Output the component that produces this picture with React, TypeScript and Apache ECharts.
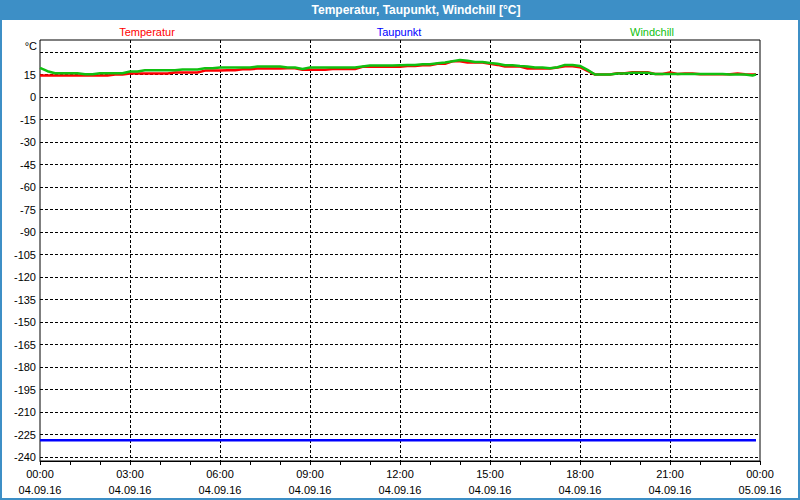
import React, { useEffect, useRef } from "react";
import * as echarts from "echarts";

const times = [
  "00:00","00:15","00:30","00:45","01:00","01:15","01:30","01:45",
  "02:00","02:15","02:30","02:45","03:00","03:15","03:30","03:45",
  "04:00","04:15","04:30","04:45","05:00","05:15","05:30","05:45",
  "06:00","06:15","06:30","06:45","07:00","07:15","07:30","07:45",
  "08:00","08:15","08:30","08:45","09:00","09:15","09:30","09:45",
  "10:00","10:15","10:30","10:45","11:00","11:15","11:30","11:45",
  "12:00","12:15","12:30","12:45","13:00","13:15","13:30","13:45",
  "14:00","14:15","14:30","14:45","15:00","15:15","15:30","15:45",
  "16:00","16:15","16:30","16:45","17:00","17:15","17:30","17:45",
  "18:00","18:15","18:30","18:45","19:00","19:15","19:30","19:45",
  "20:00","20:15","20:30","20:45","21:00","21:15","21:30","21:45",
  "22:00","22:15","22:30","22:45","23:00","23:15","23:30","23:45",
  "23:52",
];

const temperatur = [
  14.3,14.3,14.3,14.3,14.3,14.3,14.3,14.3,
  14.3,14.3,15.0,15.0,15.6,15.6,15.6,15.6,
  15.6,15.6,16.3,16.3,16.3,16.3,17.6,17.6,
  17.6,17.8,17.8,18.5,18.5,19.0,19.0,19.0,
  19.0,19.2,19.2,18.1,18.1,18.1,18.1,18.7,
  18.7,18.7,18.7,20.1,20.1,20.1,20.1,20.1,
  20.1,20.7,20.7,21.2,21.2,22.1,22.1,23.8,
  23.8,23.0,23.0,23.0,22.1,21.4,20.3,20.3,
  20.3,19.0,19.0,19.0,19.0,19.6,20.5,20.5,
  19.9,17.4,15.0,15.0,15.0,15.8,15.8,16.5,
  16.5,16.5,15.4,15.4,16.3,15.4,15.6,15.6,
  15.2,15.2,15.2,15.2,15.2,15.6,15.2,15.0,
  15.0,
];

const windchill = [
  19.4,17.2,15.8,15.8,15.8,15.8,15.2,15.2,
  15.8,15.8,15.8,15.8,17.0,17.0,17.8,17.8,
  17.8,17.8,17.8,18.3,18.3,18.3,19.2,19.2,
  19.7,19.6,19.6,19.6,19.6,20.3,20.3,20.3,
  20.3,19.6,19.6,18.7,19.6,19.6,19.6,19.6,
  19.6,19.6,19.6,20.3,21.0,21.0,21.0,21.0,
  21.2,21.4,21.4,21.8,21.8,22.5,23.0,23.8,
  24.7,24.1,23.4,23.4,22.7,22.1,21.2,21.2,
  20.7,20.3,19.6,19.6,19.2,19.8,21.4,21.4,
  20.7,18.1,15.0,15.0,15.0,15.6,15.6,16.1,
  16.1,16.1,15.4,15.4,15.4,15.4,15.4,15.4,
  15.4,15.4,15.4,15.4,15.0,15.0,15.0,14.3,
  15.0,
];

const taupunktTimes = ["00:00", "23:52"];
const taupunkt = [-228.9, -228.9];

const xTickTimes = ["00:00","03:00","06:00","09:00","12:00","15:00","18:00","21:00","00:00"];
const xTickDates = ["04.09.16","04.09.16","04.09.16","04.09.16","04.09.16","04.09.16","04.09.16","04.09.16","05.09.16"];

const seriesNames = ["Temperatur", "Taupunkt", "Windchill"];
const seriesColors = ["#ff0000", "#0000ff", "#10c010"];

const toHours = (t: string) => {
  const [h, m] = t.split(":").map(Number);
  return h + m / 60;
};

const FONT = "Liberation Sans";

export default function App() {
  const ref = useRef<HTMLDivElement>(null);
  useEffect(() => {
    if (!ref.current) return;
    const chart = echarts.init(ref.current, null, { renderer: "svg" });
    const dash = { color: "#000", width: 1, type: [3, 2] as any };
    chart.setOption({
      animation: false,
      backgroundColor: "#ffffff",
      grid: [
        { left: 40, right: 40, top: 52, bottom: 43, show: false },
        { left: 40, right: 40, top: 40, bottom: 39, show: true, borderColor: "#000", borderWidth: 1, backgroundColor: "transparent" },
      ],
      xAxis: [
        { type: "value", gridIndex: 0, min: 0, max: 24, show: false },
        {
          type: "value", gridIndex: 1, min: 0, max: 24, interval: 3,
          axisLine: { show: true, lineStyle: { color: "#000", width: 1 } },
          axisTick: { show: true, length: 4, lineStyle: { color: "#000" } },
          minorTick: { show: true, splitNumber: 3, length: 4, lineStyle: { color: "#000" } },
          splitLine: { show: true, showMinLine: false, showMaxLine: false, lineStyle: dash },
          axisLabel: {
            show: true, margin: 5, color: "#000", fontFamily: FONT, fontSize: 11, lineHeight: 16,
            showMinLabel: true, showMaxLabel: true,
            formatter: (v: number) => {
              const i = Math.round(v / 3);
              return `${xTickTimes[i]}\n${xTickDates[i]}`;
            },
          },
        },
      ],
      yAxis: [
        {
          type: "value", gridIndex: 0, min: -240, max: 30, interval: 15,
          axisLine: { show: false }, axisTick: { show: false },
          splitLine: { show: true, lineStyle: dash },
          axisLabel: {
            margin: 4, color: "#000", fontFamily: FONT, fontSize: 11,
            formatter: (v: number) => (v === 30 ? "" : String(v)),
          },
        },
        { type: "value", gridIndex: 1, min: 0, max: 1, show: false },
      ],
      series: [
        {
          name: seriesNames[0], type: "line", xAxisIndex: 0, yAxisIndex: 0,
          showSymbol: false, lineStyle: { color: seriesColors[0], width: 2.5 }, itemStyle: { color: seriesColors[0] },
          data: times.map((t, i) => [toHours(t), temperatur[i]]),
        },
        {
          name: seriesNames[1], type: "line", xAxisIndex: 0, yAxisIndex: 0,
          showSymbol: false, lineStyle: { color: seriesColors[1], width: 2.5 }, itemStyle: { color: seriesColors[1] },
          data: taupunktTimes.map((t, i) => [toHours(t), taupunkt[i]]),
        },
        {
          name: seriesNames[2], type: "line", xAxisIndex: 0, yAxisIndex: 0,
          showSymbol: false, lineStyle: { color: seriesColors[2], width: 2.5 }, itemStyle: { color: seriesColors[2] },
          data: times.map((t, i) => [toHours(t), windchill[i]]),
        },
      ],
      graphic: [
        { type: "rect", shape: { x: 0, y: 0, width: 800, height: 20 }, style: { fill: "#3d8fc6" }, silent: true },
        { type: "rect", shape: { x: 0, y: 0, width: 2, height: 500 }, style: { fill: "#3d8fc6" }, silent: true },
        { type: "rect", shape: { x: 798, y: 0, width: 2, height: 500 }, style: { fill: "#3d8fc6" }, silent: true },
        { type: "rect", shape: { x: 0, y: 498, width: 800, height: 2 }, style: { fill: "#3d8fc6" }, silent: true },
        {
          type: "text", x: 416, y: 10,
          style: { text: "Temperatur, Taupunkt, Windchill [°C]", fill: "#fff", font: `bold 12px "${FONT}"`, textAlign: "center", textVerticalAlign: "middle" },
        },
        {
          type: "text", x: 37, y: 46,
          style: { text: "°C", fill: "#000", font: `11px "${FONT}"`, textAlign: "right", textVerticalAlign: "middle" },
        },
        {
          type: "text", x: 147, y: 32,
          style: { text: seriesNames[0], fill: seriesColors[0], font: `11px "${FONT}"`, textAlign: "center", textVerticalAlign: "middle" },
        },
        {
          type: "text", x: 399, y: 32,
          style: { text: seriesNames[1], fill: seriesColors[1], font: `11px "${FONT}"`, textAlign: "center", textVerticalAlign: "middle" },
        },
        {
          type: "text", x: 652, y: 32,
          style: { text: seriesNames[2], fill: seriesColors[2], font: `11px "${FONT}"`, textAlign: "center", textVerticalAlign: "middle" },
        },
      ],
    });
    return () => chart.dispose();
  }, []);
  return <div ref={ref} style={{ position: "fixed", left: 0, top: 0, width: 800, height: 500 }} />;
}
